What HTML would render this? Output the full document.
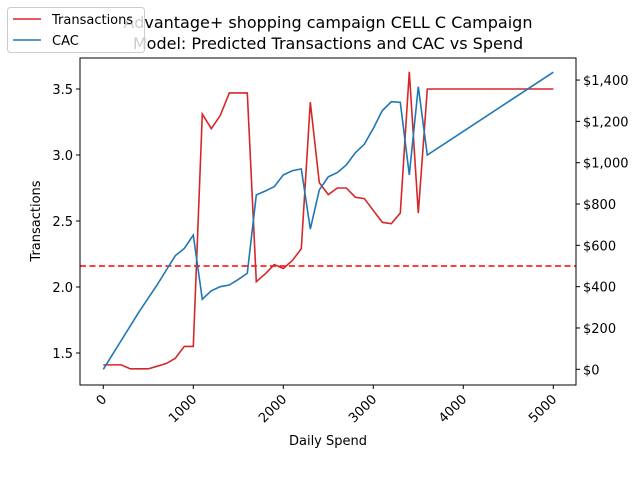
<!DOCTYPE html>
<html><head><meta charset="utf-8"><style>
body{margin:0;background:#fff;}
svg{display:block;font-family:"DejaVu Sans","Liberation Sans",sans-serif;}
</style></head><body>
<svg id="chart" width="640" height="480" xmlns="http://www.w3.org/2000/svg">
<rect width="640" height="480" fill="#fff"/>
<g id="plot"></g>
</svg>
<script>
const spend=[0,100,200,300,400,500,600,700,800,900,1000,1100,1200,1300,1400,1500,1600,1700,1800,1900,2000,2100,2200,2300,2400,2500,2600,2700,2800,2900,3000,3100,3200,3300,3400,3500,3600,5000];
const transactions=[1.41,1.41,1.41,1.38,1.38,1.38,1.40,1.42,1.46,1.55,1.55,3.31,3.20,3.30,3.47,3.47,3.47,2.04,2.10,2.17,2.14,2.20,2.29,3.40,2.79,2.70,2.75,2.75,2.68,2.67,2.58,2.49,2.48,2.56,3.63,2.56,3.50,3.50];
const cac=[0,70,140,210,280,345,410,480,550,585,650,339,380,400,408,435,465,844,863,884,941,961,970,679,868,932,952,989,1048,1089,1166,1252,1295,1292,941,1368,1037,1438];
const targetCac=500;
const xTicks=[0,1000,2000,3000,4000,5000];
const yTicks=[1.5,2.0,2.5,3.0,3.5];
const y2Ticks=[0,200,400,600,800,1000,1200,1400];

const NS="http://www.w3.org/2000/svg";
const L=80,R=576,T=58,B=385;
const xs=v=>103.3+v*0.09;
const ys=v=>89+(3.5-v)*132;
const y2s=v=>369.3-v*0.2066;
const g=document.getElementById('plot');
function el(tag,attrs,parent){const e=document.createElementNS(NS,tag);for(const k in attrs)e.setAttribute(k,attrs[k]);(parent||g).appendChild(e);return e;}
function txt(s,attrs){const e=el('text',attrs);e.textContent=s;return e;}

let d=el('line',{x1:L,x2:R,y1:y2s(targetCac),y2:y2s(targetCac),stroke:'#ff0000','stroke-width':1.6,'stroke-dasharray':'6,3.5'});



let p1=el('polyline',{points:spend.map((s,i)=>xs(s)+','+ys(transactions[i])).join(' '),fill:'none',stroke:'#d62728','stroke-width':1.6});


let p2=el('polyline',{points:spend.map((s,i)=>xs(s)+','+y2s(cac[i])).join(' '),fill:'none',stroke:'#1f77b4','stroke-width':1.6});



let fr=el('rect',{x:L,y:T,width:R-L,height:B-T,fill:'none',stroke:'#000','stroke-width':1});



xTicks.forEach(v=>{const x=xs(v);el('line',{x1:x,x2:x,y1:B,y2:B+4,stroke:'#000'});
 const t=txt(String(v),{x:x+4,y:B+15,'font-size':13,'text-anchor':'end',transform:`rotate(-45 ${x+4} ${B+15})`,fill:'#000'});
 
 });
yTicks.forEach(v=>{const y=ys(v);el('line',{x1:L,x2:L-4,y1:y,y2:y,stroke:'#000'});
 const t=txt(v.toFixed(1),{x:L-7,y:y+5,'font-size':13,'text-anchor':'end',fill:'#000'});
 
 });
y2Ticks.forEach(v=>{const y=y2s(v);el('line',{x1:R,x2:R+4,y1:y,y2:y,stroke:'#000'});
 const t=txt('$'+v.toLocaleString('en-US'),{x:R+7,y:y+5,'font-size':13,'text-anchor':'start',fill:'#000'});
 
 });

let xl=txt('Daily Spend',{x:328,y:445,'font-size':13,'text-anchor':'middle'});


let yl=txt('Transactions',{x:0,y:0,'font-size':13,'text-anchor':'middle',transform:'translate(40,221) rotate(-90)'});


let t1=txt('Advantage+ shopping campaign CELL C Campaign',{x:328,y:28,'font-size':16,'text-anchor':'middle'});


let t2=txt('Model: Predicted Transactions and CAC vs Spend',{x:328,y:49,'font-size':16,'text-anchor':'middle'});



const lg=el('g',{});


el('rect',{x:7.5,y:7.5,width:137,height:45,rx:3,fill:'rgba(255,255,255,0.8)',stroke:'#ccc'},lg);
el('line',{x1:13,x2:41,y1:19,y2:19,stroke:'#d62728','stroke-width':1.6},lg);
el('line',{x1:13,x2:41,y1:40,y2:40,stroke:'#1f77b4','stroke-width':1.6},lg);
let le1=el('text',{x:52,y:24,'font-size':13},lg);le1.textContent='Transactions';


let le2=el('text',{x:52,y:45,'font-size':13},lg);le2.textContent='CAC';


</script>
</body></html>
